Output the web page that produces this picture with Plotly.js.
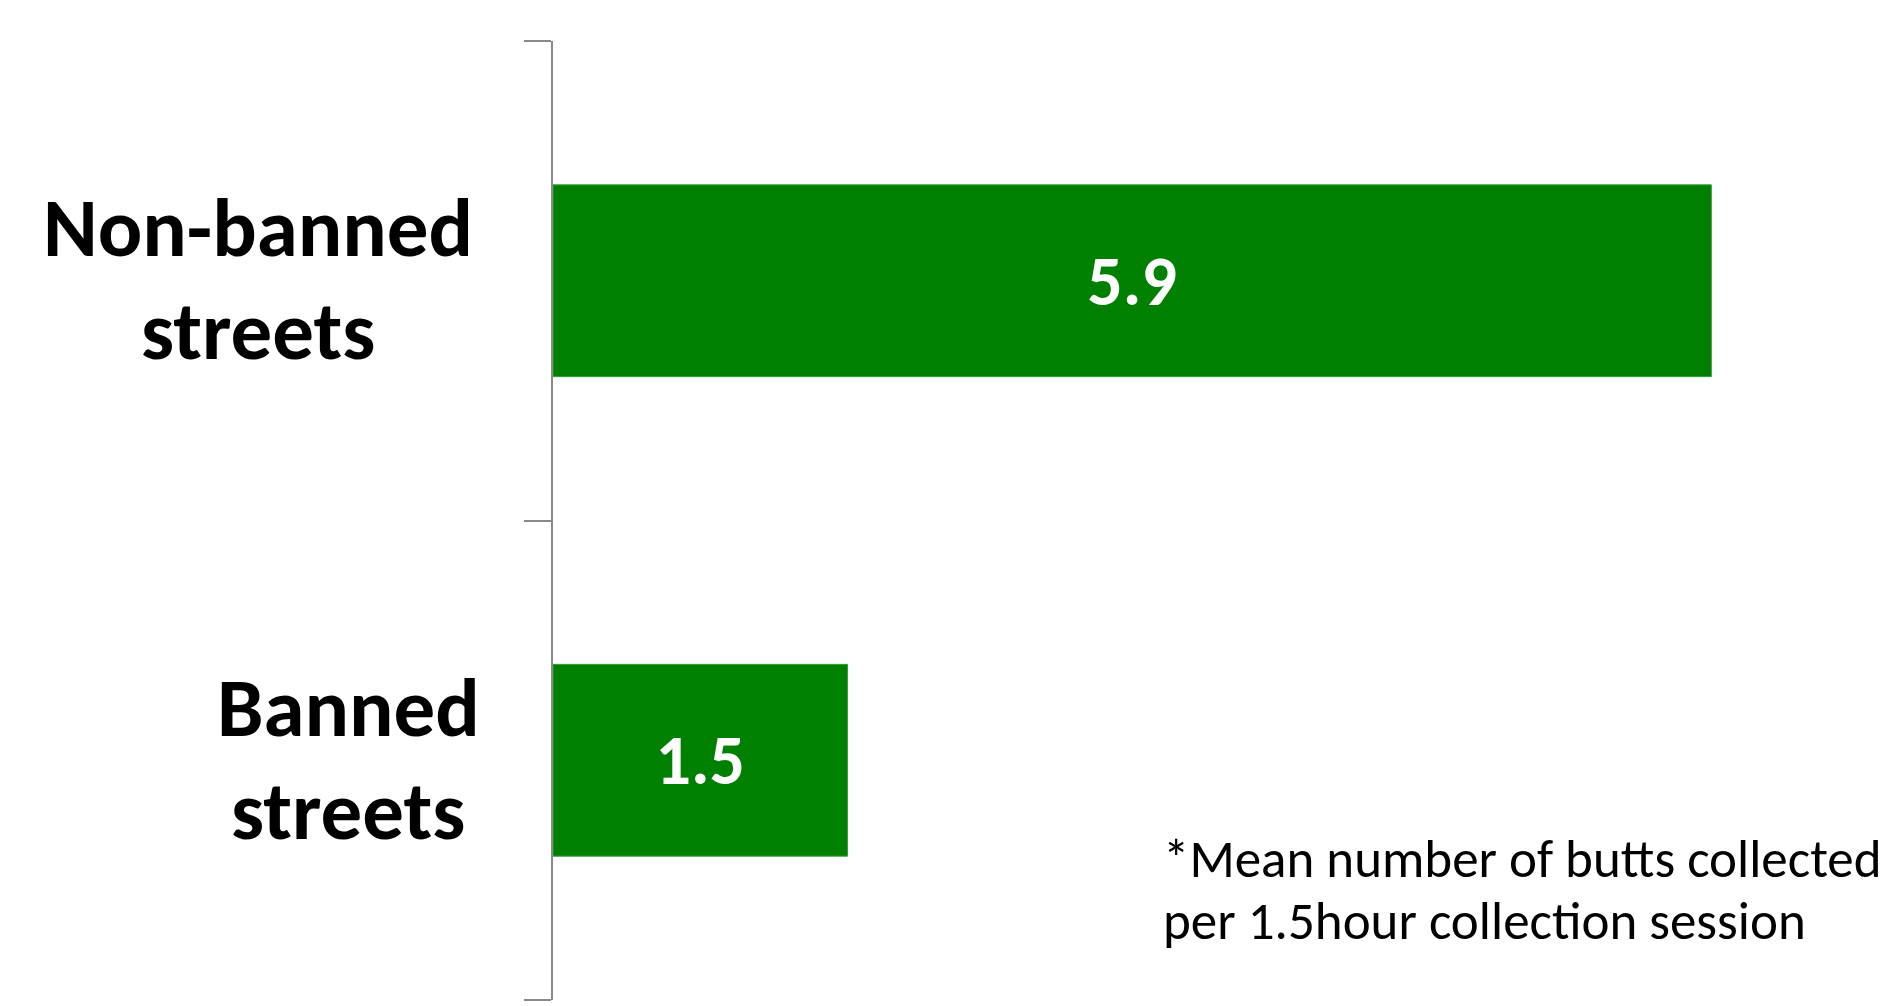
<!DOCTYPE html>
<html>
<head>
<meta charset="utf-8">
<script src="https://cdn.plot.ly/plotly-3.0.1.min.js"></script>
<style>
html, body { margin: 0; padding: 0; background: #ffffff; }
#chart { width: 1890px; height: 1006px; }
</style>
</head>
<body>
<div id="chart"></div>
<script>
// Data
const categories = ["Banned streets", "Non-banned streets"];
const categoryLines = [["Banned", "streets"], ["Non-banned", "streets"]];
const meanButts = [1.5, 5.9];
const valueLabels = ["1.5", "5.9"];
const footnoteLines = ["*Mean number of butts collected", "per 1.5hour collection session"];

const FONT = "Carlito, Calibri, Lato, 'Open Sans', sans-serif";
const LABEL_SIZE = 83;
const NOTE_SIZE = 53;

// measure text widths for centred multi-line category labels
const cv = document.createElement("canvas").getContext("2d");
cv.font = "bold " + LABEL_SIZE + "px Lato";
function w(t) { return cv.measureText(t).width; }

const trace = {
  type: "bar",
  orientation: "h",
  y: categories,
  x: meanButts,
  text: valueLabels,
  textposition: "inside",
  insidetextanchor: "middle",
  textangle: 0,
  textfont: { family: FONT, size: 70, color: "#ffffff", weight: "bold" },
  marker: { color: "#008000", line: { color: "#3a9a3a", width: 1 } },
  hoverinfo: "none",
  cliponaxis: false
};

const annotations = [];
const LABEL_RIGHT = -64;      // px from the axis line to the label block's right edge
const lineShifts = [53, -50];  // vertical offset for line 1 and line 2
categories.forEach((c, i) => {
  const lines = categoryLines[i];
  const blockW = Math.max(...lines.map(w));
  lines.forEach((ln, j) => {
    annotations.push({
      xref: "paper", yref: "y",
      x: 0, y: c,
      xanchor: "center", yanchor: "middle",
      xshift: LABEL_RIGHT - blockW / 2,
      yshift: lineShifts[j],
      text: "<b>" + ln + "</b>",
      showarrow: false,
      font: { family: FONT, size: LABEL_SIZE, color: "#000000" }
    });
  });
});

const noteTops = [825, 887];
footnoteLines.forEach((ln, j) => {
  annotations.push({
    xref: "paper", yref: "paper",
    x: (1161 - 553) / 1337, y: (1000 - noteTops[j]) / 959,
    xanchor: "left", yanchor: "top",
    align: "left",
    text: ln,
    showarrow: false,
    font: { family: FONT, size: NOTE_SIZE, color: "#000000" }
  });
});

const layout = {
  width: 1890,
  height: 1006,
  margin: { l: 553, r: 0, t: 41, b: 6, pad: 0 },
  paper_bgcolor: "#ffffff",
  plot_bgcolor: "#ffffff",
  showlegend: false,
  bargap: 0.6,
  xaxis: {
    visible: false,
    range: [0, 6.81],
    fixedrange: true
  },
  yaxis: {
    type: "category",
    categoryorder: "array",
    categoryarray: categories,
    range: [-0.5, 1.5],
    showticklabels: false,
    showline: true,
    linecolor: "#898989",
    linewidth: 2,
    ticks: "outside",
    tickson: "boundaries",
    ticklen: 27,
    tickwidth: 2,
    tickcolor: "#898989",
    showgrid: false,
    zeroline: false,
    fixedrange: true
  },
  annotations: annotations
};

Plotly.newPlot("chart", [trace], layout, { displayModeBar: false, staticPlot: true });
</script>
</body>
</html>
